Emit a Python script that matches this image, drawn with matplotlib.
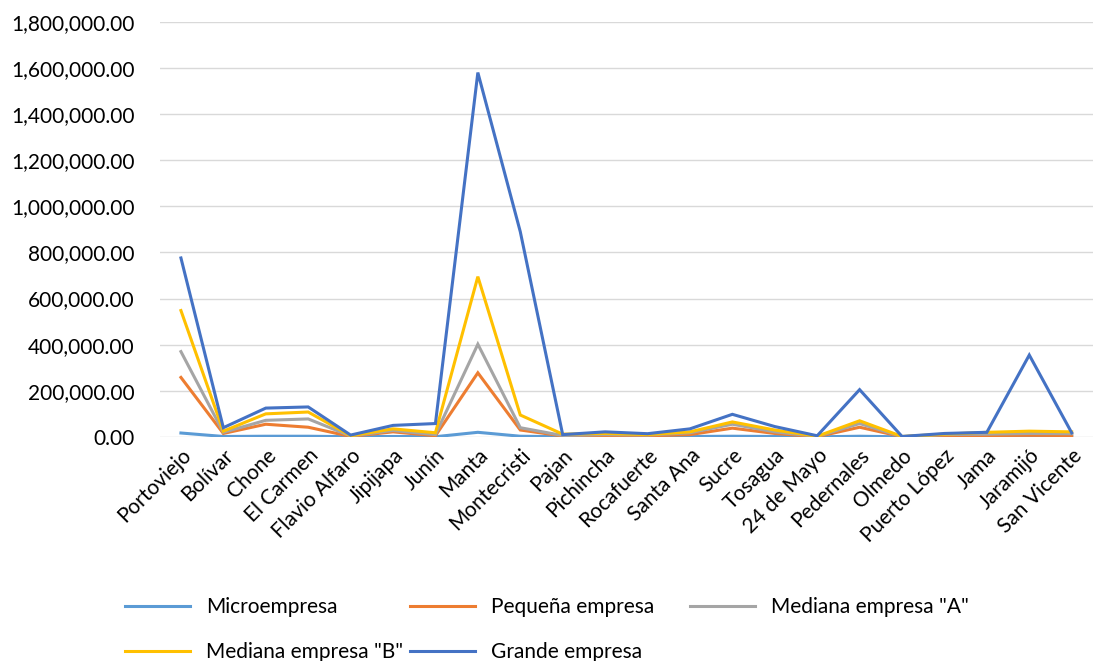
import matplotlib.pyplot as plt
from matplotlib.ticker import FuncFormatter

cantones = ['Portoviejo', 'Bolívar', 'Chone', 'El Carmen', 'Flavio Alfaro', 'Jipijapa',
            'Junín', 'Manta', 'Montecristi', 'Pajan', 'Pichincha', 'Rocafuerte',
            'Santa Ana', 'Sucre', 'Tosagua', '24 de Mayo', 'Pedernales', 'Olmedo',
            'Puerto López', 'Jama', 'Jaramijó', 'San Vicente']

micro = [17000, 2000, 3000, 3000, 1000, 2000, 1000, 20000, 3000, 1000, 2000, 1000,
         2000, 3000, 2000, 500, 3000, 500, 1500, 1500, 2000, 1500]
pequena = [258000, 15000, 55000, 42000, 2000, 22000, 5000, 278000, 30000, 4000, 6000, 5000,
           10000, 38000, 15000, 1000, 42000, 1000, 6000, 6000, 7000, 6000]
mediana_a = [370000, 20000, 72000, 78000, 4000, 28000, 10000, 402000, 40000, 6000, 10000, 8000,
             18000, 55000, 22000, 2000, 58000, 1000, 10000, 12000, 15000, 14000]
mediana_b = [548000, 25000, 100000, 108000, 5000, 35000, 18000, 695000, 95000, 12000, 15000, 10000,
             22000, 65000, 30000, 3000, 70000, 2000, 12000, 20000, 25000, 22000]
grande = [776000, 40000, 125000, 130000, 8000, 50000, 58000, 1580000, 890000, 10000, 22000, 14000,
          35000, 98000, 45000, 5000, 205000, 2000, 15000, 20000, 355000, 18000]

series = [('Microempresa', micro, '#5B9BD5'),
          ('Pequeña empresa', pequena, '#ED7D31'),
          ('Mediana empresa "A"', mediana_a, '#A5A5A5'),
          ('Mediana empresa "B"', mediana_b, '#FFC000'),
          ('Grande empresa', grande, '#4472C4')]

plt.rcParams['font.family'] = ['Lato', 'DejaVu Sans']

fig = plt.figure(figsize=(10.94, 6.61), dpi=100)
ax = fig.add_axes([0.146, 0.339, 0.853, 0.628])

x = list(range(len(cantones)))
handles = {}
for name, vals, col in series:
    h, = ax.plot(x, vals, color=col, lw=2.2, label=name, solid_joinstyle='miter')
    handles[name] = h

ax.set_xlim(-0.5, len(cantones) - 0.5)
ax.set_ylim(0, 1800000)
ax.set_yticks(range(0, 1800001, 200000))
ax.yaxis.set_major_formatter(FuncFormatter(lambda v, p: f'{v:,.2f}'))
ax.set_xticks(x)
ax.set_xticklabels(cantones, rotation=45, ha='right', rotation_mode='anchor')
ax.tick_params(axis='both', length=0, labelsize=15, colors='#000000')
ax.tick_params(axis='x', pad=6)
ax.tick_params(axis='y', pad=18)
ax.grid(axis='y', color='#D9D9D9', lw=1)
ax.set_axisbelow(True)
for s in ax.spines.values():
    s.set_visible(False)

# legend laid out in three columns like the Excel original
columns = [(['Microempresa', 'Mediana empresa "B"'], 125),
           (['Pequeña empresa', 'Grande empresa'], 410),
           (['Mediana empresa "A"'], 690)]
for names, xpix in columns:
    leg = fig.legend([handles[n] for n in names], names, frameon=False, fontsize=15,
                     loc='upper left', bbox_to_anchor=(xpix / 1094, 1 - 597 / 661),
                     borderaxespad=0, borderpad=0, handlelength=3.1,
                     labelspacing=1.2, handletextpad=0.8)

fig.savefig('out.png', dpi=100)
